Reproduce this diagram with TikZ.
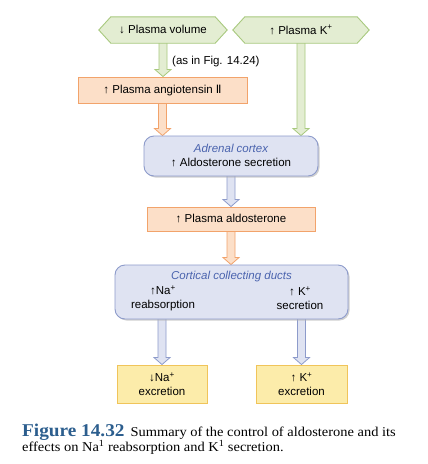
\documentclass[tikz,border=0pt]{standalone}
\usepackage{fontspec}
\setmainfont{Liberation Sans}
\newfontfamily\capfont[FakeStretch=1.07]{Liberation Serif}
\newfontfamily\dvfont{DejaVu Sans}
\usetikzlibrary{calc,backgrounds,shadows}
\definecolor{greenfill}{HTML}{E3EDD2}
\definecolor{greenline}{HTML}{A8C97E}
\definecolor{orangefill}{HTML}{FCDFC8}
\definecolor{orangeline}{HTML}{F2A36B}
\definecolor{bluefill}{HTML}{DFE3F2}
\definecolor{blueline}{HTML}{8D9BCB}
\definecolor{yellowfill}{HTML}{FCECAA}
\definecolor{yellowline}{HTML}{F0C45A}
\definecolor{bluetext}{HTML}{4A63AE}
\definecolor{capblue}{HTML}{2C5E8E}
\tikzset{
  base/.style={font=\fontsize{11.5}{13.5}\selectfont, inner sep=0pt, align=center, text=black},
  hexnode/.style={base},
  hexa/.style={fill=greenfill, draw=greenline, line width=0.9pt, line join=miter},
  obox/.style={base, rectangle, fill=orangefill, draw=orangeline, line width=0.9pt},
  ybox/.style={base, rectangle, fill=yellowfill, draw=yellowline, line width=0.9pt},
  rbox/.style={base, rectangle, rounded corners=10pt, fill=bluefill, draw=blueline, line width=0.9pt,
     drop shadow={shadow xshift=1.5pt, shadow yshift=-1.5pt, fill=black!30, opacity=0.6}},
  garr/.style={fill=greenfill, draw=greenline, line width=0.8pt, line join=miter},
  oarr/.style={fill=orangefill, draw=orangeline, line width=0.8pt, line join=miter},
  barr/.style={fill=bluefill, draw=blueline, line width=0.8pt, line join=miter},
  ttl/.style={base, text=bluetext, font=\fontsize{11.5}{13.5}\selectfont\itshape},
  lbl/.style={base},
  captxt/.style={anchor=base west, inner sep=0pt, font=\capfont\fontsize{13.5}{15}\selectfont}
}
\newcommand\blockarr[3]{%
  \path[#1] let \p1=(#2), \p2=(#3) in
    (\x2-4pt,\y1) -- (\x2-4pt,\y2+7pt) -- (\x2-8pt,\y2+7pt) -- (\x2,\y2) --
    (\x2+8pt,\y2+7pt) -- (\x2+4pt,\y2+7pt) -- (\x2+4pt,\y1) -- cycle;}
\begin{document}
\begin{tikzpicture}[x=1pt,y=-1pt]
\useasboundingbox (0,0) rectangle (428,464);
% hexagon nodes
\node[hexnode, minimum width=128pt, minimum height=26pt] (hv) at (163,30) {↓ Plasma volume};
\node[hexnode, minimum width=136pt, minimum height=26pt] (hk) at (301,30) {↑ Plasma K\textsuperscript{+}};
\node[lbl, anchor=west] (note) at (172,62) {(as in Fig. 14.24)};
% boxes
\node[obox, minimum width=169pt, minimum height=26pt] (ang) at (162.5,90) {↑ Plasma angiotensin {\dvfont Ⅱ}};
\node[rbox, minimum width=174pt, minimum height=40pt] (adr) at (231,156) {};
\node[ttl] (adrt) at (231,148) {Adrenal cortex};
\node[lbl] (adrs) at (231,163) {↑ Aldosterone secretion};
\node[obox, minimum width=168pt, minimum height=24pt] (ald) at (231,219) {↑ Plasma aldosterone};
\node[rbox, minimum width=233pt, minimum height=54pt] (ccd) at (231.5,292) {};
\node[ttl] (ccdt) at (231.5,277) {Cortical collecting ducts};
\node[lbl] (nar) at (163,298) {↑Na\textsuperscript{+}\\reabsorption};
\node[lbl] (kse) at (300,298) {↑ K\textsuperscript{+}\\secretion};
\node[ybox, minimum width=90pt, minimum height=38pt] (ne) at (162,384) {↓Na\textsuperscript{+}\\excretion};
\node[ybox, minimum width=91pt, minimum height=38pt] (ke) at (301.5,384) {↑ K\textsuperscript{+}\\excretion};
% caption
\node[captxt] (cap1) at (22,436)
  {{\fontsize{18}{20}\selectfont\bfseries\color{capblue}Figure 14.32}\hspace{6pt}Summary of the control of aldosterone and its};
\node[captxt] (cap2) at (22,451.5)
  {effects on Na\textsuperscript{1} reabsorption and K\textsuperscript{1} secretion.};
\begin{pgfonlayer}{background}
  \fill[white] (0,0) rectangle (428,464);
  \blockarr{garr}{hv.center}{hv.center |- ang.north}
  \blockarr{garr}{hk.center}{hk.center |- adr.north}
  \blockarr{oarr}{ang.center}{ang.center |- adr.north}
  \blockarr{barr}{adr.center}{adr.center |- ald.north}
  \blockarr{oarr}{ald.center}{ald.center |- ccd.north}
  \blockarr{barr}{ne.center |- ccd.center}{ne.north}
  \blockarr{barr}{ke.center |- ccd.center}{ke.north}
  \path[hexa] (hv.west) -- ([xshift=12pt]hv.north west) -- ([xshift=-12pt]hv.north east) -- (hv.east)
     -- ([xshift=-12pt]hv.south east) -- ([xshift=12pt]hv.south west) -- cycle;
  \path[hexa] (hk.west) -- ([xshift=12pt]hk.north west) -- ([xshift=-12pt]hk.north east) -- (hk.east)
     -- ([xshift=-12pt]hk.south east) -- ([xshift=12pt]hk.south west) -- cycle;
\end{pgfonlayer}
\end{tikzpicture}
\end{document}
